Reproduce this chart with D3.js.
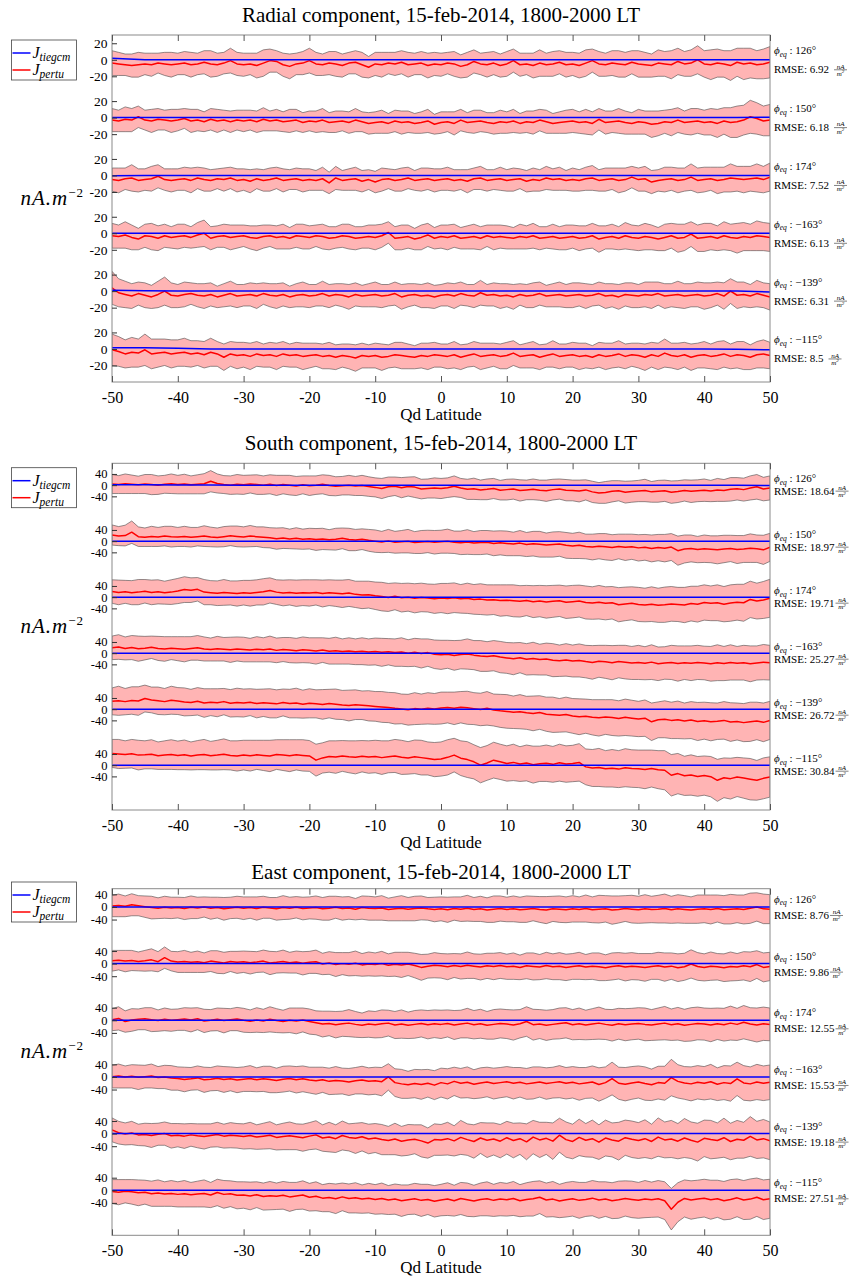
<!DOCTYPE html>
<html>
<head>
<meta charset="utf-8">
<script src="https://cdn.jsdelivr.net/npm/d3@7"></script>
<style>
body { margin: 0; background: #fff; }
text { font-family: "Liberation Serif", "Times New Roman", serif; fill: #000; }
</style>
</head>
<body>
<svg width="856" height="1276"></svg>
<script>
// ticks, labels
var latTicks = [-50, -40, -30, -20, -10, 0, 10, 20, 30, 40, 50];
var phiLabels = ["126", "150", "174", "\u2212163", "\u2212139", "\u2212115"];
var radialTicks = [20, 0, -20];
var southTicks = [40, 0, -40];
var eastTicks = [40, 0, -40];
var radialRmse = ["6.92", "6.18", "7.52", "6.13", "6.31", "8.5"];
var southRmse = ["18.64", "18.97", "19.71", "25.27", "26.72", "30.84"];
var eastRmse = ["8.76", "9.86", "12.55", "15.53", "19.18", "27.51"];

// J_pertu, one value per degree of Qd latitude (-50 .. 50)
var radialPertu = [
  [-4,-5,-6,-7,-6,-5,-6,-4,-5,-6, -5,-4,-6,-5,-3,-5,-6,-4,-1,-5, -6,-5,-7,-4,-1,-2,-6,-8,-5,-4, -1,-5,-6,-4,-5,-7,-4,-3,-6,-9, -5,-6,-4,-5,-3,-6,-5,-4,-7,-5,
   -6,-4,-5,-8,-6,-2,-5,-6,-4,-7, -5,-1,-6,-5,-7,-4,-6,-5,-3,-6, -5,-7,-4,-1,-5,-6,-4,-5,-6,-3, -5,-6,-7,-4,-5,-6,-2,-5,-4,0, -5,-6,-4,-5,-7,-3,-5,-4,-6,-5, -3],
  [-3,-4,-2,-3,1,-3,-4,-2,-3,-4, -3,-1,-4,-3,-5,-2,-4,-3,-5,-3, -4,-3,-5,-2,-4,-3,-5,-4,-3,-6, -4,-5,-3,-6,-5,-4,-6,-3,-5,-7, -6,-5,-7,-4,-6,-5,-7,-6,-4,-8,
   -6,-5,-7,-3,-6,-5,-4,-6,-7,-5, -6,-4,-7,-5,-6,-3,-5,-7,-6,-5, -4,-6,-5,-7,-2,-6,-5,-4,-6,-7, -5,-6,-8,-7,-5,-6,-3,-6,-5,-4, -6,-5,-7,-4,-6,-5,-3,1,-1,-4, -3],
  [-5,-6,-4,-3,-6,-5,-4,-1,-5,-6, -5,-4,-6,-3,-5,-6,-4,-5,-3,-6, -5,-7,-4,-6,-5,-3,-6,-5,-4,-6, -5,-6,-4,-9,-3,-6,-5,-4,-7,-5, -8,-5,-4,-6,-5,-3,-6,-5,-4,-6,
   -5,-4,-6,-5,-7,-4,-3,-6,-5,-4, -6,-5,-4,-7,-5,-6,-3,-5,-4,-6, -5,-6,-4,-3,-6,-5,-4,-6,-5,-2, -5,-4,-8,-6,-5,-4,-6,-5,-2,-6, -5,-4,-6,-5,-3,-4,-5,-4,-3,-5, -2],
  [-3,-4,-2,-5,-7,-3,-4,-6,-3,-5, -4,-3,-5,-2,0,-6,-4,-3,-5,-4, -3,-5,-6,-4,-3,-5,-4,-6,-3,-4, -5,-3,-4,-6,-5,-3,-4,-6,-5,-4, -5,-3,1,-6,-5,-4,-7,-5,-2,-6,
   -4,-5,-3,-6,-5,-4,-6,-3,-5,-4, -5,-6,-4,-5,-3,-6,-5,-4,-6,-5, -4,-6,-5,-3,-7,-5,-4,-6,-3,-5, -6,-4,-5,-7,-5,-3,-6,-5,-1,-6, -5,-4,-6,-3,-5,-6,-4,-5,-3,-4, -5],
  [4,-2,-4,-6,-3,-5,-7,-4,0,-5, -6,-4,-3,-5,-6,-4,-7,-5,-3,-6, -5,-4,-6,-3,-5,-6,-4,-7,-5,-4, -6,-5,-3,-6,-4,-5,-7,-4,-6,-5, -4,-6,-5,-3,-7,-5,-4,-6,-5,-7,
   -5,-4,-6,-3,-5,-6,-2,-5,-4,-6, -5,-7,-4,-6,-5,-3,-6,-5,-4,-6, -5,-4,-6,-5,-3,-6,-5,-7,-4,-5, -6,-4,-5,-3,-6,-5,-4,-6,-5,-4, -6,-5,-3,-6,0,-5,-4,-6,-3,-5, -7],
  [-1,-3,-6,-4,-5,-1,-6,-5,-4,-6, -5,-4,-6,-5,-7,-4,-6,-10,-6,-8, -7,-9,-6,-8,-7,-9,-6,-8,-7,-9, -8,-7,-9,-8,-10,-8,-9,-11,-8,-9, -8,-10,-9,-7,-8,-9,-10,-8,-9,-7,
   -8,-9,-7,-10,-8,-6,-9,-8,-7,-9, -8,-5,-9,-8,-7,-10,-8,-6,-9,-8, -7,-9,-8,-10,-7,-9,-8,-6,-9,-7, -8,-10,-7,-9,-5,-8,-9,-7,-10,-8, -7,-9,-8,-6,-9,-7,-8,-10,-7,-6, -8]
];
// half width of the shaded band
var radialSpread = [
  [15,14,13,14,15,13,14,12,14,15, 13,14,15,13,14,16,14,13,15,14, 14,13,15,16,14,13,14,15,13,14, 15,14,13,14,15,14,13,14,15,13, 14,15,13,14,14,15,13,14,15,14,
   14,13,15,14,15,14,13,15,14,14, 15,14,14,13,15,16,14,15,14,15, 14,15,16,14,15,14,15,16,15,14, 16,15,14,16,15,17,16,15,16,17, 16,18,17,16,18,17,19,18,17,18, 19],
  [14,13,15,14,13,12,14,13,12,14, 13,12,14,13,12,13,14,12,13,12, 13,12,13,14,12,13,12,14,13,12, 12,13,14,12,13,12,13,14,12,13, 13,14,12,13,14,13,12,13,14,12,
   13,12,14,13,12,14,13,12,13,14, 13,14,12,13,14,13,14,12,13,14, 14,13,15,14,13,14,13,15,14,13, 15,14,16,15,14,16,15,14,16,15, 15,16,17,16,18,19,18,20,19,18, 19],
  [14,15,13,16,14,13,15,14,13,14, 13,14,15,13,14,13,12,14,13,14, 13,14,12,13,14,13,14,12,13,14, 13,12,14,13,14,12,13,14,13,12, 13,14,12,13,14,13,12,14,13,14,
   13,14,13,12,14,13,14,13,12,14, 13,14,12,13,14,13,14,13,14,12, 14,13,14,15,13,14,13,15,14,13, 14,15,14,13,15,14,15,14,16,15, 15,14,16,15,17,15,16,15,17,16, 17],
  [15,14,16,15,13,14,16,15,14,13, 15,14,13,15,16,14,13,14,15,14, 13,14,15,14,13,14,15,13,14,15, 14,13,15,14,13,14,15,14,13,14, 15,14,13,14,15,14,13,15,14,13,
   14,15,14,13,14,15,14,13,15,14, 14,13,15,14,15,14,13,15,14,15, 14,15,14,15,16,14,15,14,16,15, 15,16,15,14,16,15,17,16,15,16, 17,16,15,17,16,18,17,16,18,17, 17],
  [20,17,16,15,14,15,14,16,17,15, 14,15,13,14,15,14,13,14,15,14, 13,14,15,13,14,15,14,13,14,15, 14,13,15,14,13,14,15,14,13,14, 15,14,13,14,15,14,13,14,15,14,
   13,14,15,14,13,14,15,13,14,15, 14,15,13,14,15,14,13,14,15,14, 15,14,15,13,14,15,14,15,14,15, 14,15,16,14,15,14,16,15,14,15, 16,15,14,16,15,16,15,14,16,15, 16],
  [19,18,17,18,17,19,18,17,16,17, 16,17,16,15,16,17,15,16,15,16, 15,16,15,14,15,16,15,14,15,16, 15,14,15,16,15,14,15,16,15,14, 15,16,14,15,16,15,14,15,16,15,
   14,15,16,15,14,15,16,15,14,15, 16,15,14,15,16,15,14,16,15,14, 15,16,15,14,15,16,15,16,15,14, 15,16,15,16,17,15,16,15,16,15, 16,15,17,16,15,16,17,15,16,17, 16]
];
// J_tiegcm, one value every 5 degrees
var radialTiegcm = [
  [2,0,0,0,0,0,0,0,0,0,0,0,0,0,0,0,0,0,0,0,0],
  [0,0,0,0,0,0,0,0,0,0,0,0,0,0,0,0,0,0,0,0,0.5],
  [-0.5,0,0,0,0,0,0,0,0,0,0,0,0,0,0,0,0,0,0,0,0],
  [0,0,0,0,0,0,0,0,0,0,0,0,0,0,0,0,0,0,0,0,0],
  [1,0.5,0,0,0,0,0,0,0,0,0,0,0,0,0,0,0,0,0,0,-1],
  [1.5,1.5,1,0,0,0,0,0,0,0,0,0,0,0,0,0,0,0,0,-0.5,-1]
];

var southPertu = [
  [4,2,5,3,1,4,2,0,3,5, 2,4,1,3,5,14,6,2,0,3, 1,4,2,0,3,-1,2,0,-3,1, -2,0,3,-1,-4,-2,0,-3,-1,-5, -8,-12,-6,-4,-9,-5,-7,-14,-12,-10,
   -12,-9,-4,-10,-15,-13,-17,-15,-12,-18, -16,-14,-19,-17,-15,-18,-20,-16,-14,-18, -19,-21,-17,-24,-28,-26,-22,-20,-25,-23, -21,-19,-24,-22,-20,-25,-23,-19,-22,-20, -18,-21,-17,-19,-15,-13,-16,-10,-6,-14, -10],
  [22,18,20,32,16,14,17,15,18,16, 15,17,14,16,18,15,13,16,19,17, 15,18,16,14,12,9,11,8,10,7, 9,6,8,5,7,10,6,4,7,3, 0,-3,1,-4,-2,0,-5,-3,-1,-4,
   -2,0,-4,-6,-3,-7,-5,-4,-8,-6, -8,-10,-7,-12,-9,-11,-14,-12,-10,-15, -17,-15,-19,-21,-18,-20,-23,-19,-22,-20, -24,-22,-26,-23,-25,-21,-34,-28,-26,-30, -27,-29,-31,-28,-26,-30,-28,-25,-27,-31, -22],
  [20,17,19,16,18,21,17,19,16,18, 22,27,25,28,18,16,14,17,15,13, 16,14,17,19,24,18,15,17,14,16, 15,17,13,16,14,12,15,10,8,9, 5,2,-1,3,-2,0,-4,-1,-3,-6,
   -3,-5,-2,-6,-4,-8,-7,-10,-9,-12, -11,-13,-15,-12,-16,-14,-17,-15,-13,-18, -16,-14,-19,-21,-18,-22,-20,-27,-24,-22, -26,-28,-25,-29,-27,-24,-26,-28,-23,-25, -19,-22,-20,-25,-21,-18,-20,-8,-14,-10, -4],
  [19,22,17,20,16,18,21,17,15,18, 16,14,17,19,15,13,16,14,12,15, 13,11,14,12,15,10,13,11,9,12, 10,8,11,7,9,6,8,5,7,4, 6,3,5,2,4,0,3,-1,2,-4,
   -6,-4,-8,-5,-3,-7,-10,-12,-9,-14, -17,-20,-16,-22,-19,-23,-21,-25,-27,-24, -28,-26,-30,-33,-29,-31,-34,-30,-32,-35, -33,-36,-32,-38,-35,-33,-37,-34,-36,-33, -35,-38,-34,-37,-33,-36,-34,-38,-35,-32, -34],
  [28,30,27,31,29,38,33,30,27,32, 29,26,24,28,22,25,23,27,21,24, 22,25,20,23,21,19,24,20,22,18, 21,19,17,20,18,15,13,16,14,12, 10,8,6,3,1,-2,2,0,3,1,
   4,6,3,7,5,2,-1,3,-3,-6, -8,-11,-9,-13,-15,-12,-18,-20,-22,-19, -24,-27,-25,-29,-31,-28,-30,-33,-29,-32, -35,-32,-45,-38,-36,-40,-38,-42,-39,-44, -41,-45,-43,-40,-46,-44,-48,-45,-42,-47, -40],
  [42,40,38,41,36,37,39,34,36,38, 35,37,33,36,38,34,36,39,35,33, 36,34,37,35,33,38,36,34,37,35, 33,18,26,31,29,33,30,28,32,29, 31,27,30,33,28,26,30,27,24,20,
   22,28,36,25,20,12,0,8,18,12, 6,10,4,8,2,5,7,3,9,4, 6,10,-6,-10,-8,-13,-11,-14,-9,-12, -13,-15,-12,-16,-18,-36,-30,-38,-35,-40, -37,-41,-54,-45,-48,-42,-46,-50,-54,-47, -42]
];
var southSpread = [
  [34,32,35,33,31,34,36,33,32,35, 33,35,32,34,36,38,34,32,33,35, 34,32,35,33,34,36,33,35,34,32, 35,33,34,36,34,33,35,34,36,35, 34,36,35,33,36,34,37,35,34,36,
   36,35,37,34,36,38,35,37,36,35, 37,36,38,35,37,36,38,37,36,38, 37,39,36,38,37,39,38,36,39,38, 38,40,37,39,38,40,39,38,40,39, 40,38,41,39,42,40,41,43,44,42, 43],
  [36,34,37,40,35,33,36,34,35,37, 34,36,35,33,37,35,34,36,35,37, 36,38,35,37,36,38,37,35,38,36, 37,39,38,36,39,37,40,38,37,39, 40,38,41,39,40,42,39,41,40,42,
   41,43,40,42,44,41,43,42,44,43, 44,42,45,43,44,46,43,45,44,46, 45,47,44,46,45,47,46,44,47,45, 47,46,48,47,49,48,52,50,48,47, 49,48,50,49,47,50,48,51,49,52, 50],
  [42,44,41,43,45,42,44,43,41,44, 45,46,44,42,45,43,44,46,43,45, 44,46,45,47,45,44,46,45,47,46, 47,45,48,46,47,49,48,47,49,48, 49,51,50,48,51,50,52,51,50,52,
   52,54,53,51,54,53,55,54,53,56, 55,57,56,54,57,56,58,57,56,58, 58,57,59,58,60,59,58,61,60,59, 61,60,62,61,63,62,61,63,62,64, 63,62,64,63,65,64,66,65,64,66, 68],
  [42,44,41,43,45,42,40,43,44,41, 43,45,42,44,43,41,44,42,45,43, 44,42,45,43,46,44,43,45,44,46, 45,47,44,46,48,45,47,46,48,47, 48,50,47,49,51,48,50,52,49,51,
   52,50,53,51,54,52,55,53,54,56, 55,57,54,56,58,55,57,59,56,58, 57,59,58,60,57,59,61,58,60,59, 61,59,62,60,58,61,63,60,62,61, 60,62,64,61,63,60,62,64,61,63, 62],
  [48,52,47,49,51,48,46,49,47,50, 48,50,47,49,51,48,50,47,49,51, 50,48,51,49,52,50,48,51,53,50, 52,50,53,51,54,52,55,53,51,54, 53,55,54,56,53,55,57,54,56,55,
   57,55,58,56,59,57,58,60,57,59, 60,58,61,59,62,60,61,63,60,62, 62,64,61,63,65,62,64,63,65,64, 63,65,67,64,66,65,67,64,66,68, 66,68,65,67,69,66,68,70,67,69, 68],
  [50,52,49,51,53,50,52,49,51,53, 51,53,50,52,54,51,53,55,52,54, 53,55,52,54,56,53,55,57,54,56, 55,57,54,56,58,55,57,59,56,58, 58,60,57,59,61,58,60,62,59,61,
   61,63,60,62,64,61,63,62,64,63, 63,65,62,64,66,63,65,64,66,65, 65,67,64,66,68,65,67,66,68,67, 67,69,66,68,70,74,72,70,72,71, 70,72,75,71,73,70,72,74,71,73, 72]
];
var southTiegcm = [
  [1,1,0.5,0.5,0,0,0,0,0,0,0,0,0,0,0,0,0,0,0,-0.5,-1],
  [0,0,0,0,0,0,0,0,0,0,0,0,0,0,0,0,0,0,0,0,0],
  [0,0,0,0,0,0,0,0,0,0,0,0,0,0,0,0,0,0,0,0,0],
  [0,0,0,0,0,0,0,0,0,0,0,0,0,0,0,0,0,0,0,0,0],
  [0,0,0,0,0,0,0,0,0,0,0,0,0,0,0,0,0,0,0,0,0],
  [0,0,0,0,0,0,0,0,0,0,0,0,0,0,0,0,0,0,0,0,0]
];

var eastPertu = [
  [3,5,2,7,4,1,-2,-4,-1,-3, -2,-5,-1,-3,0,-4,-2,-6,-3,-1, -4,-2,-5,-1,-3,-6,-2,-4,-1,-5, -3,-2,-6,-4,-1,-5,-3,-7,-2,-4, -5,-3,-8,-6,-4,-7,-5,-3,-6,-8,
   -6,-9,-5,-7,-4,-8,-6,-10,-7,-5, -8,-6,-9,-7,-5,-8,-10,-6,-7,-9, -6,-8,-5,-9,-7,-6,-10,-8,-5,-7, -9,-6,-8,-7,-5,-9,-6,-8,-10,-7, -6,-8,-5,-9,-7,-6,-8,-4,0,-6, -7],
  [9,11,8,10,7,9,12,6,19,8, 5,7,4,6,3,8,5,2,7,4, 6,3,5,8,2,4,7,3,5,1, 4,6,-1,2,-3,0,-2,1,-4,-1, -3,0,-5,-2,-4,-1,-6,-12,-8,-5,
   -7,-10,-6,-9,-5,-8,-11,-7,-9,-6, -10,-8,-12,-7,-9,-11,-6,-10,-8,-12, -9,-7,-11,-8,-10,-13,-9,-7,-11,-8, -10,-12,-9,-7,-11,-8,-13,-10,-1,-9, -12,-8,-10,-13,-9,-11,-7,-10,-3,-12, -9],
  [2,6,-4,1,3,5,2,-1,3,0, 2,4,1,5,-2,0,3,-1,2,4, 0,-3,1,-2,3,-1,-4,0,-2,1, -4,-8,-12,-10,-14,-11,-9,-13,-16,-12, -14,-11,-9,-15,-12,-16,-13,-10,-14,-11,
   -13,-10,-15,-12,-9,-14,-11,-16,-13,-10, -12,-15,-11,-4,-14,-12,-16,-13,-10,-8, -14,-11,-15,-12,-9,-13,-16,-11,-14,-12, -10,-13,-15,-12,-9,-14,-11,-16,-13,-10, -12,-15,-11,-14,-9,-13,-6,-12,-15,-11, -13],
  [1,3,0,2,-1,1,3,-2,0,-3, -5,-8,-6,-3,-9,-7,-4,-8,-6,-10, -7,-5,-9,-6,-8,-11,-7,-5,-9,-6, -10,-12,-9,-14,-11,-13,-16,-12,-10,-14, -12,-15,0,-18,-22,-25,-21,-24,-20,-26,
   -18,-22,-14,-20,-17,-23,-19,-16,-21,-18, -15,-20,-17,-22,-19,-16,-21,-18,-15,-20, -17,-22,-19,-16,-24,-18,-5,-20,-23,-19, -16,-21,-25,-18,-20,-2,-14,-19,-22,-17, -20,-15,-23,-18,-21,-6,-19,-22,-16,-20, -17],
  [12,3,-1,2,-4,-3,-6,-2,0,-7, -5,-8,-4,-7,-9,-6,-3,-8,-5,-7, -9,-6,-11,-8,-5,-12,-9,-7,-10,-13, -8,-4,-14,-11,-16,-6,-12,-15,-10,-17, -14,-19,-22,-17,-24,-20,-18,-23,-30,-19,
   -20,-16,-23,-12,-19,-25,-14,-21,-17,-24, -13,-22,-16,-26,-11,-20,-15,-24,-5,-19, -25,-12,-21,-16,-27,-14,-20,-24,-13,-18, -22,-16,-25,-11,-20,-17,-24,-14,-21,-27, -15,-19,-22,-13,-25,-18,-21,-9,-20,-16, -23],
  [-4,-6,-3,-5,-8,-6,-11,-9,-12,-10, -13,-11,-14,-12,-10,-15,-7,-13,-11,-16, -15,-18,-14,-20,-17,-19,-16,-21,-18,-15, -22,-19,-25,-23,-27,-21,-26,-24,-28,-25, -29,-26,-31,-28,-33,-30,-27,-32,-29,-35,
   -31,-28,-33,-26,-30,-34,-29,-27,-32,-28, -30,-26,-33,-29,-27,-22,-31,-28,-34,-30, -27,-32,-29,-25,-31,-28,-33,-30,-26,-29, -32,-28,-30,-27,-33,-60,-38,-26,-31,-28, -25,-30,-27,-33,-29,-24,-31,-28,-22,-30, -27]
];
var eastSpread = [
  [34,36,33,35,32,34,36,33,35,34, 33,35,36,34,32,35,33,36,34,35, 36,34,37,35,33,36,38,35,34,36, 35,37,36,38,35,37,36,34,37,38, 37,39,36,38,40,37,39,38,36,39,
   38,40,37,39,41,38,40,39,42,40, 39,41,40,42,39,41,43,40,42,41, 42,40,43,41,44,42,45,43,41,44, 43,45,42,44,46,43,45,44,42,45, 44,46,43,45,47,44,46,48,45,47, 46],
  [33,31,34,32,30,33,35,32,34,31, 33,35,32,34,31,33,36,34,32,35, 34,36,33,35,37,34,36,33,35,37, 35,37,34,36,38,35,37,39,36,38, 37,39,36,38,40,37,39,41,38,40,
   39,41,38,40,42,39,41,40,42,41, 40,42,39,41,43,40,42,41,43,42, 41,43,40,42,44,41,43,42,44,43, 42,44,41,43,45,42,44,43,45,44, 43,45,42,44,46,43,45,47,44,46, 45],
  [35,37,34,36,33,35,38,34,36,35, 34,36,38,35,37,34,36,39,35,37, 38,36,39,37,40,38,36,39,41,38, 40,38,41,39,42,40,43,41,39,42, 42,44,41,43,45,42,44,43,45,44,
   45,43,46,44,47,45,46,44,47,46, 46,48,45,47,49,46,48,47,49,48, 48,50,47,49,51,48,50,49,51,50, 50,52,49,51,53,50,52,51,53,52, 51,53,50,52,54,51,53,52,54,53, 52],
  [36,38,35,37,39,36,38,35,37,39, 37,39,36,38,40,37,39,41,38,40, 39,41,38,40,42,39,41,40,42,41, 41,43,40,42,44,41,43,42,44,43, 43,45,42,44,46,43,45,47,44,46,
   46,48,45,47,49,46,48,47,49,48, 48,50,47,49,51,48,50,49,51,50, 50,52,49,51,53,50,52,51,53,52, 51,53,50,52,54,58,53,52,54,53, 53,55,52,54,56,53,55,54,56,55, 55],
  [38,36,35,37,34,36,38,35,37,39, 37,39,36,38,40,37,39,38,40,39, 40,42,39,41,43,40,42,44,41,43, 43,45,42,47,44,46,43,48,45,47, 46,48,45,50,47,49,46,51,48,50,
   49,52,48,54,50,53,49,55,51,53, 52,55,50,57,53,56,51,58,54,56, 55,58,53,59,55,57,54,60,56,58, 57,60,55,61,57,59,56,62,58,60, 58,61,56,62,58,60,57,63,59,61, 60],
  [38,40,37,39,41,38,40,42,39,41, 40,42,39,41,43,40,42,44,41,43, 42,44,41,43,45,42,44,46,43,45, 44,46,43,45,47,44,46,48,45,47, 47,49,46,48,50,47,49,51,48,50,
   50,52,49,51,53,50,52,54,51,53, 52,54,51,53,55,52,54,56,53,55, 55,57,54,56,58,55,57,59,56,58, 57,59,56,58,60,66,62,59,61,60, 60,62,59,61,63,60,62,64,61,63, 62]
];
var eastTiegcm = [
  [0,0,0,0,0,0,0,0,0,0,0,0,0,0,0,0,0,0,0,0,0],
  [0,0,0,0,0,0,0,0,0,0,0,0,0,0,0,0,0,0,0,0,0],
  [0,0,0,0,0,0,0,0,0,0,0,0,0,0,0,0,0,0,0,0,0],
  [0,0,0,0,0,0,0,0,0,0,0,0,0,0,0,0,0,0,0,0,0],
  [0,0,0,0,0,0,0,0,0,0,0,0,0,0,0,0,0,0,0,0,0],
  [0,0,0,0,0,0,0,0,0,0,0,0,0,0,0,0,0,0,0,0,0]
];

var svg = d3.select("svg");
var x = d3.scaleLinear().domain([-50, 50]).range([112, 770]);

var panels = [
  {name: "radial", title: "Radial component, 15-feb-2014, 1800-2000 LT", top: 35, bottom: 382, ydom: [-390, 30], step: 70,
   ticks: radialTicks, pertu: radialPertu, spread: radialSpread, tiegcm: radialTiegcm, rmse: radialRmse,
   titleY: 22, phiDy: -5.5, rmseDy: 13.5, fracGap: 5, legendTop: 40},
  {name: "south", title: "South component, 15-feb-2014, 1800-2000 LT", top: 463.3, bottom: 810, ydom: [-1160, 78], step: 200,
   ticks: southTicks, pertu: southPertu, spread: southSpread, tiegcm: southTiegcm, rmse: southRmse,
   titleY: 450, phiDy: -3, rmseDy: 9.5, fracGap: 1, legendTop: 467.7},
  {name: "east", title: "East component, 15-feb-2014, 1800-2000 LT", top: 888.7, bottom: 1235.3, ydom: [-1043, 58], step: 180,
   ticks: eastTicks, pertu: eastPertu, spread: eastSpread, tiegcm: eastTiegcm, rmse: eastRmse,
   titleY: 879, phiDy: -4, rmseDy: 12, fracGap: 1, legendTop: 882}
];

function fmt(v) { return String(v); }

function drawPanel(p) {
  var y = d3.scaleLinear().domain(p.ydom).range([p.bottom, p.top]);
  var g = svg.append("g");

  g.append("clipPath").attr("id", "clip-" + p.name)
    .append("rect").attr("x", x(-50)).attr("y", p.top).attr("width", x(50) - x(-50)).attr("height", p.bottom - p.top);
  var plot = g.append("g").attr("clip-path", "url(#clip-" + p.name + ")");

  p.pertu.forEach(function(vals, i) {
    var zero = -i * p.step;
    var w = p.spread[i];
    var n = vals.length;
    function lat(j) { return -50 + j * 100 / (n - 1); }

    var band = d3.area()
      .x(function(d, j) { return x(lat(j)); })
      .y0(function(d, j) { return y(zero + d - w[j]); })
      .y1(function(d, j) { return y(zero + d + w[j]); });
    plot.append("path").datum(vals).attr("d", band)
      .attr("fill", "#ffb4b4").attr("stroke", "#4a4a4a").attr("stroke-width", 0.6);

    var red = d3.line()
      .x(function(d, j) { return x(lat(j)); })
      .y(function(d) { return y(zero + d); });
    plot.append("path").datum(vals).attr("d", red)
      .attr("fill", "none").attr("stroke", "#ff0000").attr("stroke-width", 1.5).attr("stroke-linejoin", "round");

    var tg = p.tiegcm[i];
    var blue = d3.line()
      .x(function(d, j) { return x(-50 + j * 100 / (tg.length - 1)); })
      .y(function(d) { return y(zero + d); });
    plot.append("path").datum(tg).attr("d", blue)
      .attr("fill", "none").attr("stroke", "#0000ff").attr("stroke-width", 1.5);

    // phi_eq and RMSE on the right
    var yz = y(zero);
    var phi = g.append("text").attr("x", 774).attr("y", yz + p.phiDy).style("font-size", "11px");
    phi.append("tspan").style("font-style", "italic").text("\u03d5");
    phi.append("tspan").style("font-style", "italic").style("font-size", "7.5px").attr("dy", 2.5).text("eq");
    phi.append("tspan").attr("dy", -2.5).text(" : " + phiLabels[i] + "\u00b0");

    var rm = g.append("text").attr("x", 774).attr("y", yz + p.rmseDy).style("font-size", "11px")
      .text("RMSE: " + p.rmse[i]);
    var fx = 774 + rm.node().getComputedTextLength() + p.fracGap;
    var fy = yz + p.rmseDy - 3.5;
    g.append("text").attr("x", fx + 6.5).attr("y", fy - 1.2).attr("text-anchor", "middle")
      .style("font-size", "7px").style("font-style", "italic").text("nA");
    g.append("line").attr("x1", fx).attr("x2", fx + 13).attr("y1", fy).attr("y2", fy)
      .attr("stroke", "#000").attr("stroke-width", 0.5);
    var den = g.append("text").attr("x", fx + 6.5).attr("y", fy + 6).attr("text-anchor", "middle")
      .style("font-size", "7px").style("font-style", "italic");
    den.append("tspan").text("m");
    den.append("tspan").attr("dy", -2.5).style("font-size", "5px").text("2");
  });

  // box
  g.append("rect").attr("x", x(-50)).attr("y", p.top).attr("width", x(50) - x(-50)).attr("height", p.bottom - p.top)
    .attr("fill", "none").attr("stroke", "#8a8a8a").attr("stroke-width", 1);

  // x axis bottom and top ticks
  var xb = g.append("g").attr("transform", "translate(0," + p.bottom + ")")
    .call(d3.axisBottom(x).tickValues(latTicks).tickSizeInner(-6).tickSizeOuter(0).tickPadding(9.5).tickFormat(fmt));
  xb.select(".domain").remove();
  xb.selectAll(".tick line").attr("stroke", "#555");
  xb.selectAll("text").style("font-size", "16px").style("font-family", "Liberation Serif");
  var xt = g.append("g").attr("transform", "translate(0," + p.top + ")")
    .call(d3.axisTop(x).tickValues(latTicks).tickSizeInner(-6).tickSizeOuter(0).tickFormat(""));
  xt.select(".domain").remove();
  xt.selectAll(".tick line").attr("stroke", "#555");

  // y ticks: the same three labels repeated for every stacked trace
  var yVals = [], yLab = {};
  p.pertu.forEach(function(vals, i) {
    p.ticks.forEach(function(t) {
      var v = t - i * p.step;
      yVals.push(v);
      yLab[v] = String(t);
    });
  });
  var ya = g.append("g").attr("transform", "translate(" + x(-50) + ",0)")
    .call(d3.axisLeft(y).tickValues(yVals).tickSizeInner(-5).tickSizeOuter(0).tickPadding(4.5)
      .tickFormat(function(v) { return yLab[v]; }));
  ya.select(".domain").remove();
  ya.selectAll(".tick line").attr("stroke", "#333");
  ya.selectAll("text").style("font-size", p.step > 100 ? "12.5px" : "13.5px").style("font-family", "Liberation Serif");

  // titles and labels
  g.append("text").attr("x", (x(-50) + x(50)) / 2).attr("y", p.titleY).attr("text-anchor", "middle")
    .style("font-size", "21px").text(p.title);
  g.append("text").attr("x", (x(-50) + x(50)) / 2).attr("y", p.bottom + 38).attr("text-anchor", "middle")
    .style("font-size", "17px").text("Qd Latitude");
  var yl = g.append("text").attr("x", 84).attr("y", (p.top + p.bottom) / 2 - 4).attr("text-anchor", "end")
    .style("font-size", "21px").style("font-style", "italic").style("letter-spacing", "1px");
  yl.append("tspan").text("nA.m");
  yl.append("tspan").attr("dy", -8).style("font-size", "13px").style("font-style", "normal").text("\u22122");

  // legend
  var lg = g.append("g").attr("transform", "translate(11.5," + p.legendTop + ")");
  lg.append("rect").attr("width", 65).attr("height", 40).attr("fill", "#fff").attr("stroke", "#444").attr("stroke-width", 0.8);
  [["tiegcm", "#0000ff", 13], ["pertu", "#ff0000", 30]].forEach(function(e) {
    lg.append("line").attr("x1", 1).attr("x2", 19).attr("y1", e[2]).attr("y2", e[2])
      .attr("stroke", e[1]).attr("stroke-width", 1.5);
    var t = lg.append("text").attr("x", 21).attr("y", e[2] + 5).style("font-size", "16px").style("font-style", "italic");
    t.append("tspan").text("J");
    t.append("tspan").attr("dy", 3).style("font-size", "11.5px").text(e[0]);
  });
}

panels.forEach(drawPanel);
</script>
</body>
</html>
